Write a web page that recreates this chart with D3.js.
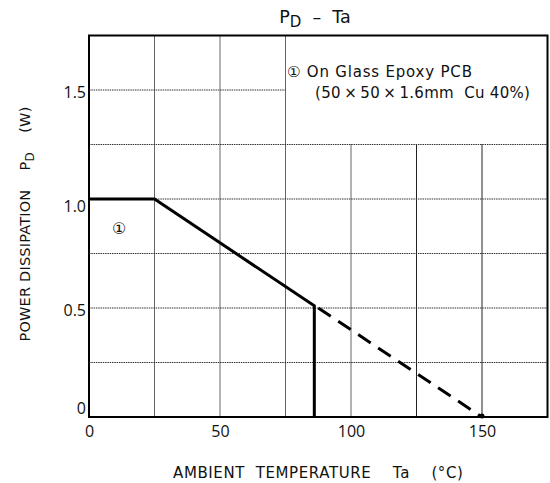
<!DOCTYPE html>
<html>
<head>
<meta charset="utf-8">
<script src="https://cdn.jsdelivr.net/npm/d3@7"></script>
<style>
  body { margin: 0; background: #fff; }
  text { font-family: "Open Sans", "Noto Sans", "DejaVu Sans", sans-serif; fill: #111; white-space: pre; }
  .wide { font-family: "DejaVu Sans", "Open Sans", sans-serif; }
</style>
</head>
<body>
<script>
const width = 550;
const height = 483;
const margin = { top: 35.5, right: 2.5, bottom: 66, left: 89 };

// axis ranges and ticks
const xDomain = [0, 175];
const yDomain = [0, 1.75];
const xTicks = [0, 50, 100, 150];
const yTicks = [0, 0.5, 1.0, 1.5];
const xGrid = [25, 50, 75, 100, 125, 150];
const yGrid = [0.25, 0.5, 0.75, 1.0, 1.25, 1.5];

// derating curve: solid part, then dashed extension
const solidTa = [0, 25, 86, 86];
const solidPd = [1.0, 1.0, 0.51, 0];
const dashTa = [87.5, 150];
const dashPd = [0.5, 0];

const plotW = width - margin.left - margin.right;
const plotH = height - margin.top - margin.bottom;

const svg = d3.select("body")
	.append("svg")
	.attr("width", width)
	.attr("height", height);

const xScale = d3.scaleLinear().domain(xDomain).range([margin.left, margin.left + plotW]);
const yScale = d3.scaleLinear().domain(yDomain).range([margin.top + plotH, margin.top]);

// grid
svg.append("g")
	.selectAll("line")
	.data(xGrid)
	.enter()
	.append("line")
	.attr("x1", d => xScale(d))
	.attr("x2", d => xScale(d))
	.attr("y1", yScale(0))
	.attr("y2", yScale(1.75))
	.attr("stroke", d => d >= 125 ? "#222" : "#666")
	.attr("stroke-width", 1);

svg.append("g")
	.selectAll("line")
	.data(yGrid)
	.enter()
	.append("line")
	.attr("x1", xScale(0))
	.attr("x2", xScale(175))
	.attr("y1", d => yScale(d))
	.attr("y2", d => yScale(d))
	.attr("stroke", "#333")
	.attr("stroke-width", 1)
	.attr("stroke-dasharray", "1.5,0.8");

// legend area blanks the grid
svg.append("rect")
	.attr("x", xScale(75) + 0.5)
	.attr("y", yScale(1.75))
	.attr("width", xScale(175) - xScale(75) - 0.5)
	.attr("height", yScale(1.25) - yScale(1.75) - 0.5)
	.attr("fill", "#fff");

// frame
svg.append("rect")
	.attr("x", xScale(0))
	.attr("y", yScale(1.75))
	.attr("width", xScale(175) - xScale(0))
	.attr("height", yScale(0) - yScale(1.75))
	.attr("fill", "none")
	.attr("stroke", "#000")
	.attr("stroke-width", 2);

// axes (labels only)
const xAxis = svg.append("g")
	.attr("transform", `translate(0,${yScale(0)})`)
	.call(d3.axisBottom(xScale).tickValues(xTicks).tickSize(0).tickPadding(9).tickFormat(d3.format("d")));
xAxis.select(".domain").remove();
xAxis.selectAll("text").attr("font-size", 16).style("font-family", null);

const yAxis = svg.append("g")
	.attr("transform", `translate(${xScale(0)},0)`)
	.call(d3.axisLeft(yScale).tickValues(yTicks).tickSize(0).tickPadding(3)
		.tickFormat(d => d === 0 ? "0" : d3.format(".1f")(d)));
yAxis.select(".domain").remove();
yAxis.selectAll("text").attr("font-size", 16).style("font-family", null)
	.attr("dy", d => d === 0 ? "-0.2em" : d === 1 ? "0.75em" : "0.45em");

// curve
const line = d3.line().x(d => xScale(d[0])).y(d => yScale(d[1]));

svg.append("path")
	.datum(d3.zip(solidTa, solidPd))
	.attr("d", line)
	.attr("fill", "none")
	.attr("stroke", "#000")
	.attr("stroke-width", 3)
	.attr("stroke-linejoin", "miter");

svg.append("path")
	.datum(d3.zip(dashTa, dashPd))
	.attr("d", line)
	.attr("fill", "none")
	.attr("stroke", "#000")
	.attr("stroke-width", 3)
	.attr("stroke-dasharray", "15,9");

svg.append("circle")
	.attr("cx", xScale(150))
	.attr("cy", yScale(0) - 1)
	.attr("r", 2.5)
	.attr("fill", "#000");

// curve label
svg.append("text")
	.attr("x", xScale(11.5))
	.attr("y", yScale(0.84))
	.attr("text-anchor", "middle")
	.attr("font-size", 16)
	.text("\u2460");

// legend text
svg.append("text")
	.attr("class", "wide")
	.attr("x", 287)
	.attr("y", 77)
	.attr("font-size", 15)
	.attr("letter-spacing", 0.8)
	.text("\u2460 On Glass Epoxy PCB");

svg.append("text")
	.attr("class", "wide")
	.attr("x", 315)
	.attr("y", 98)
	.attr("font-size", 15)
	.attr("letter-spacing", 0.3)
	.text("(50\u2009\u00d7\u200950\u2009\u00d7\u20091.6mm  Cu 40%)");

// title
const title = svg.append("text")
	.attr("class", "wide")
	.attr("x", 315)
	.attr("y", 23)
	.attr("text-anchor", "middle")
	.attr("font-size", 17.5);
title.append("tspan").text("P");
title.append("tspan").attr("font-size", 15).attr("dy", 4).text("D");
title.append("tspan").attr("dy", -4).text("  \u2013  Ta");

// x axis title
svg.append("text")
	.attr("class", "wide")
	.attr("x", xScale(87.5))
	.attr("y", 478)
	.attr("text-anchor", "middle")
	.attr("font-size", 15)
	.attr("letter-spacing", 0.6)
	.text("AMBIENT  TEMPERATURE    Ta    (\u00b0C)");

// y axis title
const yTitle = svg.append("text")
	.attr("class", "wide")
	.attr("transform", "translate(30,224) rotate(-90)")
	.attr("text-anchor", "middle")
	.attr("font-size", 14.5)
	.attr("letter-spacing", 0.2);
yTitle.append("tspan").text("POWER DISSIPATION    P");
yTitle.append("tspan").attr("font-size", 12).attr("dy", 4).text("D");
yTitle.append("tspan").attr("dy", -4).text("    (W)");
</script>
</body>
</html>
